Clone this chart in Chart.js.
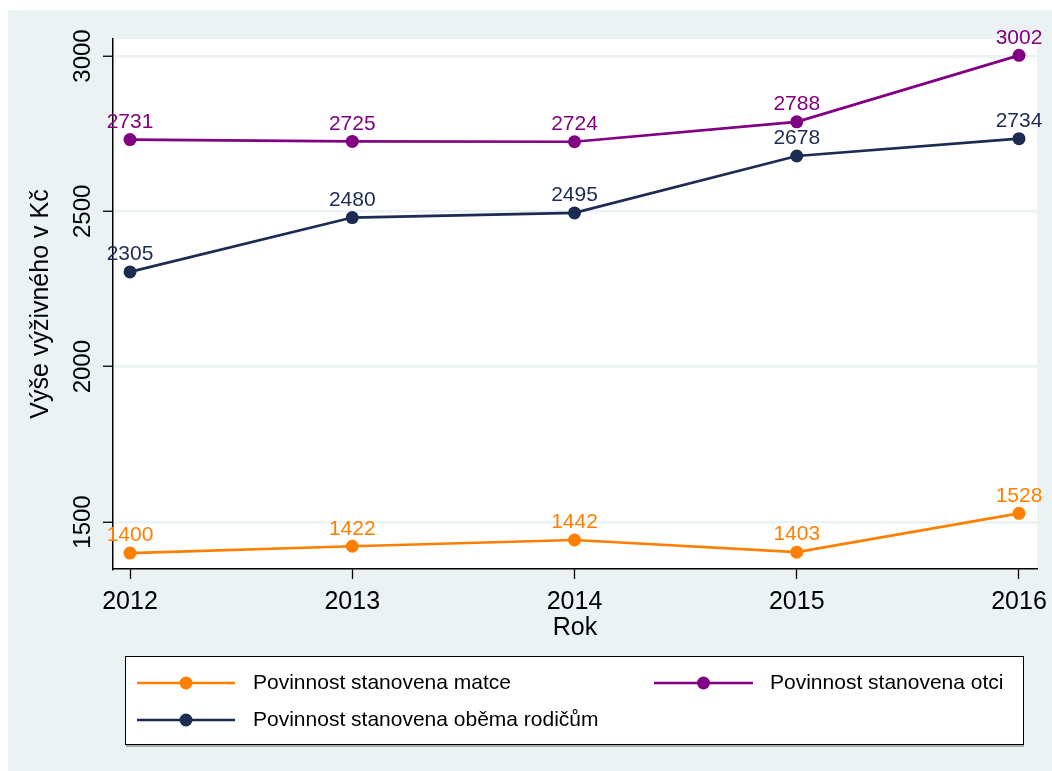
<!DOCTYPE html>
<html><head><meta charset="utf-8">
<script src="https://cdn.jsdelivr.net/npm/chart.js@4.4.0/dist/chart.umd.min.js"></script>
<style>html,body{margin:0;padding:0;background:#fff;} canvas{display:block;position:absolute;left:0;top:0;}</style>
</head><body>
<canvas id="c" width="1052" height="771"></canvas>
<script>
const years = [2012, 2013, 2014, 2015, 2016];
const seriesNames = ['Povinnost stanovena matce', 'Povinnost stanovena otci', 'Povinnost stanovena oběma rodičům'];
const matce = [1400, 1422, 1442, 1403, 1528];
const otci = [2731, 2725, 2724, 2788, 3002];
const obema = [2305, 2480, 2495, 2678, 2734];
const yTicks = [1500, 2000, 2500, 3000];
const xTicks = [2012, 2013, 2014, 2015, 2016];
const yTitle = 'Výše výživného v Kč';
const xTitle = 'Rok';
const colors = ['#FF8000', '#820082', '#1C2B52'];
const seriesValues = [matce, otci, obema];

const FONT = '"Liberation Sans", Arial, sans-serif';
const BG = '#EAF2F3';

const datasets = seriesValues.map((vals, i) => ({
  label: seriesNames[i],
  data: years.map((yr, j) => ({ x: yr, y: vals[j] })),
  borderColor: colors[i],
  backgroundColor: colors[i],
  pointBackgroundColor: colors[i],
  pointBorderWidth: 0,
  pointRadius: 6.5,
  borderWidth: 2.7,
  tension: 0,
  clip: false
}));

const bgPlugin = {
  id: 'bg',
  beforeDraw(chart) {
    const ctx = chart.ctx, a = chart.chartArea;
    ctx.save();
    ctx.fillStyle = '#fff';
    ctx.fillRect(0, 0, chart.width, chart.height);
    ctx.fillStyle = BG;
    ctx.fillRect(8, 10, chart.width - 8, chart.height - 10);
    ctx.fillStyle = '#fff';
    ctx.fillRect(a.left, a.top, a.right - a.left, a.bottom - a.top);
    ctx.restore();
  }
};

const labelPlugin = {
  id: 'labels',
  afterDatasetsDraw(chart) {
    const ctx = chart.ctx;
    ctx.save();
    ctx.font = '21px ' + FONT;
    ctx.textAlign = 'center';
    ctx.textBaseline = 'middle';
    chart.data.datasets.forEach((ds, i) => {
      const meta = chart.getDatasetMeta(i);
      ctx.fillStyle = colors[i];
      meta.data.forEach((pt, j) => {
        ctx.fillText(String(seriesValues[i][j]), pt.x, pt.y - 17.5);
      });
    });
    ctx.restore();
  },
  afterDraw(chart) {
    const ctx = chart.ctx, a = chart.chartArea;
    const xs = chart.scales.x, ys = chart.scales.y;
    ctx.save();
    ctx.fillStyle = '#000';
    ctx.textAlign = 'center';
    ctx.textBaseline = 'middle';
    // y tick labels (rotated)
    ctx.font = '24px ' + FONT;
    yTicks.forEach(v => {
      const y = ys.getPixelForValue(v);
      ctx.save();
      ctx.translate(83, y);
      ctx.rotate(-Math.PI / 2);
      ctx.fillText(String(v), 0, 0);
      ctx.restore();
    });
    // y title
    ctx.font = '25px ' + FONT;
    ctx.save();
    ctx.translate(41, (a.top + a.bottom) / 2);
    ctx.rotate(-Math.PI / 2);
    ctx.fillText(yTitle, 0, 0);
    ctx.restore();
    // x tick labels
    ctx.font = '25px ' + FONT;
    xTicks.forEach(v => {
      ctx.fillText(String(v), xs.getPixelForValue(v), 602);
    });
    // x title
    ctx.font = '25px ' + FONT;
    ctx.fillText(xTitle, (a.left + a.right) / 2, 628);

    // legend
    ctx.fillStyle = '#fff';
    ctx.fillRect(125, 656, 898, 88);
    ctx.strokeStyle = '#000';
    ctx.lineWidth = 1;
    ctx.strokeRect(125.5, 656.5, 898, 88);
    ctx.strokeStyle = '#666';
    ctx.beginPath(); ctx.moveTo(126, 746); ctx.lineTo(1024, 746); ctx.stroke();
    const pos = [
      { x0: 137, x1: 235, y: 683, tx: 253 },
      { x0: 654, x1: 753, y: 683, tx: 770 },
      { x0: 137, x1: 235, y: 720, tx: 253 }
    ];
    ctx.font = '21px ' + FONT;
    ctx.textAlign = 'left';
    seriesNames.forEach((name, i) => {
      const p = pos[i];
      ctx.strokeStyle = colors[i];
      ctx.lineWidth = 2.7;
      ctx.beginPath(); ctx.moveTo(p.x0, p.y); ctx.lineTo(p.x1, p.y); ctx.stroke();
      ctx.fillStyle = colors[i];
      ctx.beginPath(); ctx.arc((p.x0 + p.x1) / 2, p.y, 6.5, 0, Math.PI * 2); ctx.fill();
      ctx.fillStyle = '#000';
      ctx.fillText(name, p.tx, p.y);
    });
    ctx.restore();
  }
};

new Chart(document.getElementById('c'), {
  type: 'line',
  data: { datasets },
  options: {
    responsive: false,
    animation: false,
    devicePixelRatio: 1,
    layout: { padding: { left: 0, top: 39, right: 15, bottom: 121 } },
    plugins: { legend: { display: false }, tooltip: { enabled: false }, title: { display: false } },
    scales: {
      x: {
        type: 'linear',
        min: 2011.9235,
        max: 2016.081,
        afterBuildTicks: s => { s.ticks = xTicks.map(v => ({ value: v })); },
        afterFit: s => { s.height = 81; },
        ticks: { display: false },
        grid: { drawOnChartArea: false, drawTicks: true, tickLength: 10, tickColor: '#000', tickWidth: 1.3 },
        border: { color: '#000', width: 1.5 }
      },
      y: {
        type: 'linear',
        min: 1348.7,
        max: 3054.7,
        afterBuildTicks: s => { s.ticks = yTicks.map(v => ({ value: v })); },
        afterFit: s => { s.width = 113; },
        ticks: { display: false },
        grid: { color: BG, lineWidth: 2.5, drawTicks: true, tickLength: 10, tickColor: '#000', tickWidth: 1.3 },
        border: { color: '#000', width: 1.5 }
      }
    }
  },
  plugins: [bgPlugin, labelPlugin]
});
</script>
</body></html>
